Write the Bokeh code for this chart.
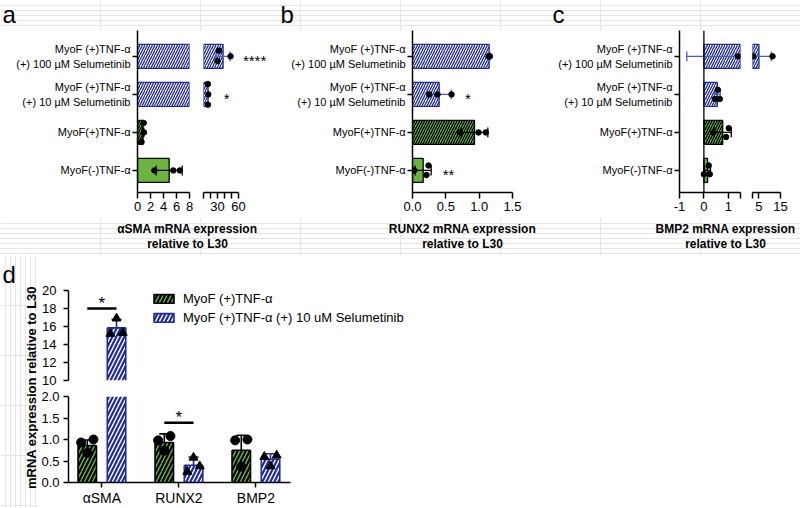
import math
from bokeh.plotting import figure
from bokeh.layouts import column, row
from bokeh.models import Range1d, FixedTicker, ColumnDataSource, Legend, LegendItem, Span
from bokeh.core.properties import value
from bokeh.embed import file_html
from bokeh.resources import INLINE

FONT = "Liberation Sans"
GREEN = "#6cb43f"
BLUE = "#1f2a9c"
BLUE_ERR = "#4a5cc6"

# ---------------- data: panels a-c (rows listed bottom -> top) ----------------
ROW_LABELS = ["MyoF(-)TNF-α", "MyoF(+)TNF-α",
              "MyoF (+)TNF-α\n(+) 10 µM Selumetinib",
              "MyoF (+)TNF-α\n(+) 100 µM Selumetinib"]

A_MEAN = [4.87, 0.85, 16.5, 38.0]
A_SD = [2.0, 0.12, 0.5, 10.0]
A_PTS = [[2.6, 5.5, 6.5], [0.95, 1.0, 0.62], [16.2, 16.8, 16.3], [32.0, 48.6, 30.0]]
A_STARS = ["", "", "*", "****"]
A_STAR_X = [0, 0, 43, 83]
A_TITLE = ["αSMA mRNA expression", "relative to L30"]

B_MEAN = [0.16, 0.93, 0.40, 1.15]
B_SD = [0.12, 0.20, 0.18, 0.01]
B_PTS = [[0.24, 0.025, 0.21], [0.71, 0.99, 1.10], [0.25, 0.375, 0.585], [1.16, 1.15, 1.14]]
B_STARS = ["**", "", "*", ""]
B_STAR_X = [0.54, 0, 0.83, 0]
B_TITLE = ["RUNX2 mRNA expression", "relative to L30"]

C_MEAN = [0.15, 0.77, 0.55, 5.0]
C_SD = [0.12, 0.35, 0.12, 5.7]
C_PTS = [[0.2, 0.0, 0.24], [1.02, 0.38, 0.91], [0.57, 0.45, 0.65], [1.4, 2.3, 11.3]]
C_TITLE = ["BMP2 mRNA expression", "relative to L30"]

# axis segments / ticks
A1_SEG = (0, 8)
A1_TICKS = [0, 2, 4, 6, 8]
A1_TICK_LABELS = ["0", "2", "4", "6", "8"]
A2_SEG = (10, 60)
A2_TICKS = [10, 20, 30, 40, 50, 60]
A2_TICK_LABELS = ["", "", "30", "", "", "60"]
B_SEG = (0, 1.5)
B_TICKS = [0, 0.5, 1.0, 1.5]
B_TICK_LABELS = ["0.0", "0.5", "1.0", "1.5"]
C1_SEG = (-1, 1.5)
C1_TICKS = [-1, 0, 1, 1.5]
C1_TICK_LABELS = ["-1", "0", "1", ""]
C2_SEG = (2, 15)
C2_TICKS = [2, 5, 15]
C2_TICK_LABELS = ["", "5", "15"]

# ---------------- data: panel d ----------------
D_CATS = ["αSMA", "RUNX2", "BMP2"]
D_SERIES = ["MyoF (+)TNF-α", "MyoF (+)TNF-α (+) 10 uM Selumetinib"]
D_G_MEAN = [0.86, 0.93, 0.75]
D_G_SD = [0.13, 0.20, 0.35]
D_G_PTS = [[0.93, 0.69, 1.0], [0.98, 0.74, 1.08], [0.98, 0.37, 1.0]]
D_B_MEAN = [15.85, 0.40, 0.54]
D_B_SD = [0.95, 0.19, 0.13]
D_B_PTS = [[15.2, 16.9, 15.3], [0.25, 0.58, 0.38], [0.6, 0.38, 0.63]]
D_SIG_CAT = [0, 1]
D_SIG_Y = [18.0, 1.39]
D_YTITLE = "mRNA expression relative to L30"
D_TOP_SEG = (10, 20)
D_TOP_TICKS = [10, 12, 14, 16, 18, 20]
D_TOP_TICK_LABELS = ["10", "12", "14", "16", "18", "20"]
D_BOT_SEG = (0, 2.0)
D_BOT_TICKS = [0, 0.5, 1.0, 1.5, 2.0]
D_BOT_TICK_LABELS = ["0.0", "0.5", "1.0", "1.5", "2.0"]
PANEL_LETTERS = ["a", "b", "c", "d"]

# ---------------- styles ----------------
ROW_FILL = [GREEN, GREEN, "white", "white"]
ROW_HATCH = [" ", "/", "/", "/"]
ROW_HATCH_COLOR = ["black", "black", BLUE, BLUE]
ROW_LINE = ["black", "black", BLUE, BLUE]
ROW_ERR = ["black", "black", BLUE_ERR, BLUE_ERR]
JIT_A = [[0, 0, 0], [0.25, 0, -0.25], [0.27, 0, -0.27], [0.15, 0, -0.12]]
JIT_B = [[0.13, 0, -0.12], [0, 0, 0], [0, 0, 0], [0, 0, 0]]
JIT_C = [[0.13, -0.1, -0.1], [0.11, 0, -0.12], [0.12, -0.12, -0.12], [0, 0, 0]]
BAR_H = 0.63
CAP = 0.13
Y_RANGE = (-0.58, 3.68)


def base_fig(width, height, xr, yr, mbl, mbr, mbt, mbb, xaxis=True, yaxis=True):
    p = figure(width=width, height=height, x_range=xr, y_range=yr, title=None,
               output_backend="svg", toolbar_location=None,
               x_axis_location="below" if xaxis else None,
               y_axis_location="left" if yaxis else None,
               min_border_left=mbl, min_border_right=mbr,
               min_border_top=mbt, min_border_bottom=mbb)
    p.outline_line_color = None
    p.background_fill_color = "white"
    p.border_fill_color = "white"
    for g in p.grid:
        g.visible = False
    return p


def style_axis(ax, ticks, labels, size, tick_out=6, standoff=3, bounds=None):
    ax.ticker = FixedTicker(ticks=ticks)
    ax.major_label_overrides = {t: l for t, l in zip(ticks, labels)}
    ax.axis_line_width = 1.5
    ax.axis_line_color = "black"
    ax.major_tick_line_width = 1.5
    ax.major_tick_line_color = "black"
    ax.major_tick_out = tick_out
    ax.major_tick_in = 0
    ax.minor_tick_line_color = None
    ax.major_label_text_font = FONT
    ax.major_label_text_font_size = f"{size}px"
    ax.major_label_text_color = "black"
    ax.major_label_standoff = standoff
    if bounds is not None:
        ax.bounds = bounds


def hpanel(p, mean, sd, pts, jit, lo, hi, xend, stars=None, star_x=None):
    """Draw the part of a horizontal bar panel that falls in axis segment [lo, hi]."""
    n = len(mean)
    idx = [i for i in range(n) if mean[i] > lo]
    bars = ColumnDataSource(dict(
        y=idx,
        left=[max(lo, 0.0) for i in idx],
        right=[min(mean[i], hi) for i in idx],
        fill=[ROW_FILL[i] for i in idx],
        hatch=[ROW_HATCH[i] for i in idx],
        hcol=[ROW_HATCH_COLOR[i] for i in idx],
        line=[ROW_LINE[i] for i in idx]))
    p.hbar(y="y", left="left", right="right", height=BAR_H, source=bars,
           fill_color="fill", hatch_pattern="hatch", hatch_color="hcol",
           hatch_scale=5, hatch_weight=1.3, line_color="line", line_width=1.3)
    # error bars (mean +/- SD), trimmed to this segment
    e = [i for i in range(n) if mean[i] + sd[i] > lo and mean[i] - sd[i] < hi]
    p.segment([max(mean[i] - sd[i], lo) for i in e], e,
              [min(mean[i] + sd[i], hi) for i in e], e,
              line_color=[ROW_ERR[i] for i in e], line_width=1.3)
    cx, cy, cc = [], [], []
    for i in range(n):
        for v in (mean[i] - sd[i], mean[i] + sd[i]):
            if lo <= v <= hi:
                cx.append(v)
                cy.append(i)
                cc.append(ROW_ERR[i])
    p.segment(cx, [y - CAP for y in cy], cx, [y + CAP for y in cy], line_color=cc, line_width=1.3)
    dx, dy = [], []
    for i in range(n):
        for j, v in enumerate(pts[i]):
            if lo <= v <= hi:
                dx.append(v)
                dy.append(i + jit[i][j])
    p.scatter(dx, dy, size=5.5, color="black")
    if stars:
        sel = [i for i in range(n) if stars[i] and lo <= star_x[i] <= xend]
        if sel:
            p.text([star_x[i] for i in sel], sel, text=[stars[i] for i in sel],
                   text_font=value(FONT), text_font_size="15px", text_align="center",
                   text_baseline="middle", y_offset=4, text_color="black")


def yaxis_rows(p):
    style_axis(p.yaxis[0], [0, 1, 2, 3], ROW_LABELS, 11, tick_out=5, standoff=2)


TOP_H, MB_T, MB_B = 188, 0, 26
yr_top = Range1d(*Y_RANGE)

# panel a (two axis segments)
a1 = base_fig(196, TOP_H, Range1d(*A1_SEG), yr_top, 137, 7, MB_T, MB_B)
hpanel(a1, A_MEAN, A_SD, A_PTS, JIT_A, A1_SEG[0], A1_SEG[1], A1_SEG[1])
style_axis(a1.xaxis[0], A1_TICKS, A1_TICK_LABELS, 13)
yaxis_rows(a1)

a2_w, a2_l, a2_r, A2_AXIS_PX = 74, 7, 0, 35
a2_end = A2_SEG[0] + (a2_w - a2_l - a2_r) * (A2_SEG[1] - A2_SEG[0]) / A2_AXIS_PX
a2 = base_fig(a2_w, TOP_H, Range1d(A2_SEG[0], a2_end), yr_top, a2_l, a2_r, MB_T, MB_B, yaxis=False)
hpanel(a2, A_MEAN, A_SD, A_PTS, JIT_A, A2_SEG[0], A2_SEG[1], a2_end, A_STARS, A_STAR_X)
style_axis(a2.xaxis[0], A2_TICKS, A2_TICK_LABELS, 13, bounds=A2_SEG)

# panel b
b = base_fig(255, TOP_H, Range1d(*B_SEG), yr_top, 142, 13, MB_T, MB_B)
hpanel(b, B_MEAN, B_SD, B_PTS, JIT_B, B_SEG[0], B_SEG[1], B_SEG[1], B_STARS, B_STAR_X)
style_axis(b.xaxis[0], B_TICKS, B_TICK_LABELS, 13)
yaxis_rows(b)

# panel c (two axis segments)
c1 = base_fig(220, TOP_H, Range1d(*C1_SEG), yr_top, 154, 5, MB_T, MB_B)
c1.add_layout(Span(location=0, dimension="height", line_color="black", line_width=1.3))
hpanel(c1, C_MEAN, C_SD, C_PTS, JIT_C, C1_SEG[0], C1_SEG[1], C1_SEG[1])
style_axis(c1.xaxis[0], C1_TICKS, C1_TICK_LABELS, 13)
yaxis_rows(c1)

c2_w, c2_l, c2_r, C2_AXIS_PX = 55, 7, 0, 28
c2_end = C2_SEG[0] + (c2_w - c2_l - c2_r) * (C2_SEG[1] - C2_SEG[0]) / C2_AXIS_PX
c2 = base_fig(c2_w, TOP_H, Range1d(C2_SEG[0], c2_end), yr_top, c2_l, c2_r, MB_T, MB_B, yaxis=False)
hpanel(c2, C_MEAN, C_SD, C_PTS, JIT_C, C2_SEG[0], C2_SEG[1], c2_end)
style_axis(c2.xaxis[0], C2_TICKS, C2_TICK_LABELS, 13, bounds=C2_SEG)


# ---------------- text strips ----------------
def strip(width, height):
    p = figure(width=width, height=height, x_range=Range1d(0, width), y_range=Range1d(height, 0),
               title=None, output_backend="svg", toolbar_location=None,
               x_axis_location=None, y_axis_location=None,
               min_border_left=0, min_border_right=0, min_border_top=0, min_border_bottom=0)
    p.outline_line_color = None
    p.border_fill_color = "white"
    p.background_fill_color = "white"
    return p


W = 800
header = strip(W, 30)
header.text([2, 280, 552], [14, 14, 14], text=PANEL_LETTERS[:3], text_font=value(FONT),
            text_font_size="24px", text_align="left", text_baseline="middle", text_color="black")

titles = strip(W, 37)
for cx, t in zip([187, 462, 725], [A_TITLE, B_TITLE, C_TITLE]):
    titles.text([cx, cx], [10, 25], text=t, text_font=value(FONT), text_font_size="12px",
                text_font_style="bold", text_align="center", text_baseline="middle", text_color="black")

# ---------------- panel d ----------------
D_W, D_L = 384, 30
D_PX_PER_CAT = 77
D_X0 = -33.4 / D_PX_PER_CAT
D_X1 = D_X0 + (D_W - D_L) / D_PX_PER_CAT
D_AXIS_END = len(D_CATS) - 1 + 34.3 / D_PX_PER_CAT
D_OFF = 0.19
D_BAR_W = 0.24
D_CAPW = 0.065
D_PT_OFF = [-0.08, 0.0, 0.08]
dxr = Range1d(D_X0, D_X1)

dtop = base_fig(D_W, 133, dxr, Range1d(*D_TOP_SEG), D_L, 0, 35, 8, xaxis=False)
dbot = base_fig(D_W, 120, dxr, Range1d(*D_BOT_SEG), D_L, 0, 8, 24)


def bar_style(fill, hcol, line):
    return dict(width=D_BAR_W, fill_color=fill, hatch_pattern="/", hatch_color=hcol,
                hatch_scale=8, hatch_weight=2.2, line_color=line, line_width=1.6)


def dbars(p, lo, hi, means, sds, pts, off, fill, hcol, line, ecol, marker):
    xs = [i + off for i in range(len(means))]
    idx = [i for i in range(len(means)) if means[i] > lo]
    st = bar_style(fill, hcol, line)
    st["line_color"] = None
    p.vbar(x=[xs[i] for i in idx], top=[min(means[i], hi) for i in idx], bottom=lo, **st)
    # bar outlines: sides always, top edge only where the bar ends inside this segment
    hw = D_BAR_W / 2
    sx0, sy0, sx1, sy1 = [], [], [], []
    for i in idx:
        t = min(means[i], hi)
        for x in (xs[i] - hw, xs[i] + hw):
            sx0.append(x); sy0.append(lo); sx1.append(x); sy1.append(t)
        if means[i] <= hi:
            sx0.append(xs[i] - hw); sy0.append(t); sx1.append(xs[i] + hw); sy1.append(t)
    p.segment(sx0, sy0, sx1, sy1, line_color=line, line_width=1.6)
    e = [i for i in range(len(means)) if means[i] + sds[i] > lo and means[i] < hi]
    p.segment([xs[i] for i in e], [max(means[i], lo) for i in e],
              [xs[i] for i in e], [min(means[i] + sds[i], hi) for i in e],
              line_color=ecol, line_width=1.6)
    cidx = [i for i in range(len(means)) if lo <= means[i] + sds[i] <= hi]
    p.segment([xs[i] - D_CAPW for i in cidx], [means[i] + sds[i] for i in cidx],
              [xs[i] + D_CAPW for i in cidx], [means[i] + sds[i] for i in cidx],
              line_color=ecol, line_width=1.6)
    px, py = [], []
    for x, vals in zip(xs, pts):
        for o, v in zip(D_PT_OFF, vals):
            if lo <= v <= hi:
                px.append(x + o)
                py.append(v)
    p.scatter(px, py, marker=marker, size=9, color="black")


G_STYLE = (GREEN, "black", "black")
B_STYLE = ("white", BLUE, BLUE)
for p, (lo, hi) in ((dtop, D_TOP_SEG), (dbot, D_BOT_SEG)):
    dbars(p, lo, hi, D_G_MEAN, D_G_SD, D_G_PTS, -D_OFF, *G_STYLE, "black", "circle")
    dbars(p, lo, hi, D_B_MEAN, D_B_SD, D_B_PTS, D_OFF, *B_STYLE, BLUE, "triangle")
    s = [k for k in range(len(D_SIG_Y)) if lo <= D_SIG_Y[k] <= hi]
    p.segment([D_SIG_CAT[k] - D_OFF for k in s], [D_SIG_Y[k] for k in s],
              [D_SIG_CAT[k] + D_OFF for k in s], [D_SIG_Y[k] for k in s],
              line_color="black", line_width=2.5)
    p.text([D_SIG_CAT[k] for k in s], [D_SIG_Y[k] for k in s], text=["*"] * len(s),
           text_font=value(FONT), text_font_size="17px", text_align="center",
           text_baseline="alphabetic", y_offset=-5, text_color="black")

# hidden renderers carrying the full bar style, used only for the legend swatches
lg = dtop.vbar(x=[i - D_OFF for i in range(len(D_CATS))], top=D_G_MEAN, bottom=0,
               visible=False, **bar_style(*G_STYLE))
lb = dtop.vbar(x=[i + D_OFF for i in range(len(D_CATS))], top=D_B_MEAN, bottom=0,
               visible=False, **bar_style(*B_STYLE))
leg = Legend(items=[LegendItem(label=D_SERIES[0], renderers=[lg]),
                    LegendItem(label=D_SERIES[1], renderers=[lb])],
             location=(83, 55), orientation="vertical", padding=0, margin=0, spacing=4,
             glyph_width=25, glyph_height=11, label_height=15, label_standoff=7,
             border_line_color=None, background_fill_alpha=0, inactive_fill_alpha=0,
             label_text_font=FONT, label_text_font_size="13px", label_text_color="black")
dtop.add_layout(leg)

style_axis(dtop.yaxis[0], D_TOP_TICKS, D_TOP_TICK_LABELS, 13, tick_out=5, standoff=7)
style_axis(dbot.yaxis[0], D_BOT_TICKS, D_BOT_TICK_LABELS, 13, tick_out=5, standoff=4)
style_axis(dbot.xaxis[0], list(range(len(D_CATS))), D_CATS, 14, tick_out=5, standoff=2,
           bounds=(D_X0, D_AXIS_END))

dy = strip(38, 253)
dy.text([2], [19], text=[PANEL_LETTERS[3]], text_font=value(FONT), text_font_size="24px",
        text_align="left", text_baseline="middle", text_color="black")
dy.text([31], [132], text=[D_YTITLE], angle=math.pi / 2, text_font=value(FONT),
        text_font_size="13px", text_font_style="bold", text_align="center",
        text_baseline="middle", text_color="black")

layout = column(header,
                row(a1, a2, b, c1, c2),
                titles,
                row(dy, column(dtop, dbot)))

open("out.html", "w").write(file_html(layout, INLINE))
